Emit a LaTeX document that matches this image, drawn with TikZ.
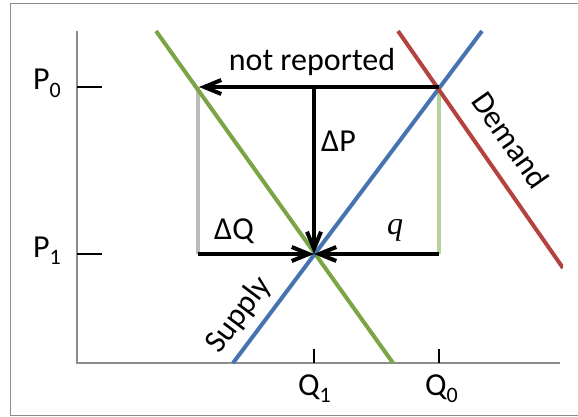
\documentclass[tikz,border=0pt]{standalone}
\usepackage{fontspec}
\setmainfont{Carlito}
\newfontfamily\serifit{Liberation Serif}
\usetikzlibrary{arrows.meta}
\definecolor{frameg}{HTML}{8C8C8C}
\definecolor{supg}{HTML}{7BA444}
\definecolor{supb}{HTML}{4673B0}
\definecolor{demr}{HTML}{B4423F}
\definecolor{lgreen}{HTML}{B7D39C}
\definecolor{dotg}{HTML}{BBBBBB}
\newcommand{\subsc}[1]{\raisebox{-0.24em}{\fontsize{22}{24}\selectfont #1}}
\tikzset{
  curve/.style={line width=4pt},
  axis/.style={frameg, line width=1.5pt},
  tick/.style={black, line width=2pt},
  arr/.style={black, line width=4pt, -{Straight Barb[length=17pt,width=14pt]}},
  lbl/.style={font=\fontsize{32}{34}\selectfont, inner sep=0pt},
}
\begin{document}
\begin{tikzpicture}[x=1pt,y=-1pt]
\useasboundingbox (0,0) rectangle (578,417);
\fill[white] (0,0) rectangle (578,417);
% frame
\draw[frameg, line width=1.5pt] (10.5,3.5) -- (590,3.5);
\draw[frameg, line width=1.5pt] (10.5,3.5) -- (10.5,415.5) -- (590,415.5);
% axes
\coordinate (ytop) at (77,31);
\coordinate (orig) at (77,363);
\coordinate (xend) at (560,363);
\draw[axis] (ytop) -- (orig) -- (xend);
% key points
\coordinate (A) at (199,87);
\coordinate (E0) at (439,87);
\coordinate (D) at (314,87);
\coordinate (E1) at (314,254);
\coordinate (B) at (198,254);
\coordinate (C) at (439,254);
% ticks
\coordinate (tp0a) at (77,87); \coordinate (tp0b) at (102,87);
\coordinate (tp1a) at (77,254); \coordinate (tp1b) at (102,254);
\coordinate (tq1a) at (314,349); \coordinate (tq1b) at (314,363);
\coordinate (tq0a) at (439,349); \coordinate (tq0b) at (439,363);
\draw[tick] (tp0a) -- (tp0b);
\draw[tick] (tp1a) -- (tp1b);
\draw[tick] (tq1a) -- (tq1b);
\draw[tick] (tq0a) -- (tq0b);
% guide lines
\coordinate (Ad) at (198,87);
\draw[dotg, line width=4pt] (Ad) -- (B);
\draw[lgreen, line width=4pt] (E0) -- (C);
% curves
\coordinate (g1) at (156,31); \coordinate (g2) at (393,363);
\coordinate (b1) at (233,363); \coordinate (b2) at (482,31);
\coordinate (r1) at (398,31); \coordinate (r2) at (563,268);
\draw[curve, supg] (g1) -- (g2);
\draw[curve, supb] (b1) -- (b2);
\begin{scope}
\clip (0,0) rectangle (563,417);
\draw[curve, demr] (r1) -- (r2);
\end{scope}
% arrows
\draw[arr] (E0) -- (A);
\draw[arr] (D) -- (E1);
\draw[arr] (B) -- (E1);
\draw[arr] (C) -- (E1);
% labels
\node[lbl] (nr) at (312,62) {not reported};
\node[lbl, anchor=west] (dp) at (321,141) {ΔP};
\node[lbl, anchor=west] (dq) at (214,231) {ΔQ};
\node[lbl, font=\fontsize{32}{34}\serifit\itshape] (q) at (395,230) {q};
\node[lbl, rotate=-55] (dem) at (511,140) {Demand};
\node[lbl, rotate=53] (sup) at (239,315) {Supply};
\node[lbl, anchor=base west] (p0) at (33,90) {P\subsc{0}};
\node[lbl, anchor=base west] (p1) at (33,257) {P\subsc{1}};
\node[lbl, anchor=base west] (q1) at (298,395) {Q\subsc{1}};
\node[lbl, anchor=base west] (q0) at (425,395) {Q\subsc{0}};
\end{tikzpicture}
\end{document}
